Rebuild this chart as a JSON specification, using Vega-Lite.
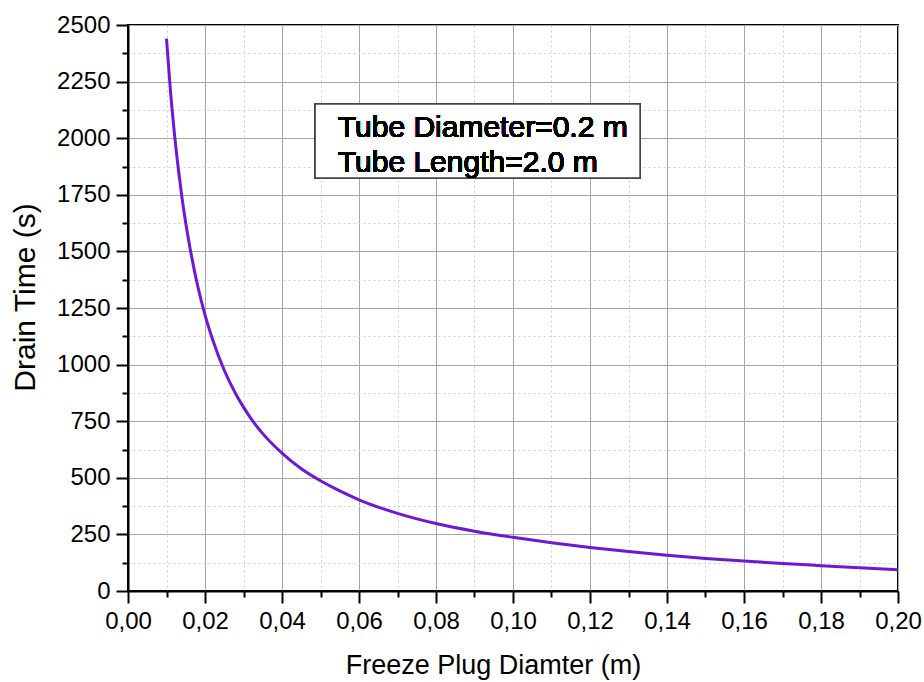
{
  "$schema": "https://vega.github.io/schema/vega-lite/v6.json",
  "autosize": {"type": "none"},
  "padding": {"left": 128, "top": 25, "right": 26, "bottom": 91},
  "width": 770,
  "height": 566,
  "background": "white",
  "config": {
    "view": {"stroke": "black", "strokeWidth": 2},
    "font": "Liberation Sans",
    "axis": {
      "domainColor": "black",
      "domainWidth": 2,
      "tickColor": "black",
      "tickWidth": 2,
      "labelColor": "black",
      "titleColor": "black",
      "labelFont": "Liberation Sans",
      "titleFont": "Liberation Sans",
      "titleFontWeight": "normal"
    }
  },
  "data": {
    "values": [
      {"d": 0.010, "t": 2440},
      {"d": 0.011, "t": 2215},
      {"d": 0.012, "t": 2030},
      {"d": 0.013, "t": 1875},
      {"d": 0.014, "t": 1740},
      {"d": 0.015, "t": 1625},
      {"d": 0.016, "t": 1525},
      {"d": 0.018, "t": 1355},
      {"d": 0.020, "t": 1220},
      {"d": 0.022, "t": 1110},
      {"d": 0.025, "t": 975},
      {"d": 0.028, "t": 870},
      {"d": 0.030, "t": 812},
      {"d": 0.032, "t": 760},
      {"d": 0.035, "t": 695},
      {"d": 0.040, "t": 609},
      {"d": 0.045, "t": 540},
      {"d": 0.050, "t": 487},
      {"d": 0.055, "t": 442},
      {"d": 0.060, "t": 403},
      {"d": 0.070, "t": 343},
      {"d": 0.080, "t": 298},
      {"d": 0.090, "t": 264},
      {"d": 0.100, "t": 237},
      {"d": 0.110, "t": 213},
      {"d": 0.120, "t": 192},
      {"d": 0.130, "t": 174},
      {"d": 0.140, "t": 158},
      {"d": 0.150, "t": 144},
      {"d": 0.160, "t": 132},
      {"d": 0.170, "t": 121.5},
      {"d": 0.180, "t": 112},
      {"d": 0.190, "t": 102.5},
      {"d": 0.200, "t": 94}
    ]
  },
  "resolve": {"axis": {"x": "independent", "y": "independent"}},
  "layer": [
    {
      "mark": {"type": "line", "opacity": 0},
      "encoding": {
        "x": {
          "field": "d", "type": "quantitative",
          "scale": {"domain": [0, 0.2], "nice": false, "zero": false},
          "axis": {
            "orient": "bottom",
            "values": [0.01, 0.03, 0.05, 0.07, 0.09, 0.11, 0.13, 0.15, 0.17, 0.19],
            "labels": false, "title": null, "domain": false,
            "tickSize": 6,
            "grid": true, "gridColor": "#cfcfcf", "gridDash": [2, 3], "gridWidth": 1
          }
        },
        "y": {
          "field": "t", "type": "quantitative",
          "scale": {"domain": [0, 2500], "nice": false},
          "axis": {
            "orient": "left",
            "values": [125, 375, 625, 875, 1125, 1375, 1625, 1875, 2125, 2375],
            "labels": false, "title": null, "domain": false,
            "tickSize": 6,
            "grid": true, "gridColor": "#cfcfcf", "gridDash": [2, 3], "gridWidth": 1
          }
        }
      }
    },
    {
      "mark": {"type": "line", "color": "#6f17d6", "strokeWidth": 3, "interpolate": "monotone"},
      "encoding": {
        "x": {
          "field": "d", "type": "quantitative",
          "axis": {
            "orient": "bottom",
            "values": [0, 0.02, 0.04, 0.06, 0.08, 0.1, 0.12, 0.14, 0.16, 0.18, 0.2],
            "labelExpr": "replace(format(datum.value, '.2f'), '.', ',')",
            "labelFontSize": 24,
            "labelPadding": 6,
            "labelFlush": false,
            "labelOverlap": false,
            "tickSize": 12,
            "title": "Freeze Plug Diamter (m)",
            "titleFontSize": 27,
            "titlePadding": 19,
            "titleX": 365,
            "grid": true, "gridColor": "#a6a6a6", "gridWidth": 1
          }
        },
        "y": {
          "field": "t", "type": "quantitative",
          "axis": {
            "orient": "left",
            "values": [0, 250, 500, 750, 1000, 1250, 1500, 1750, 2000, 2250, 2500],
            "format": "d",
            "labelFontSize": 24,
            "labelPadding": 6,
            "labelFlush": false,
            "labelOverlap": false,
            "tickSize": 12,
            "title": "Drain Time (s)",
            "titleFontSize": 30,
            "titlePadding": 16,
            "titleY": 272,
            "grid": true, "gridColor": "#a6a6a6", "gridWidth": 1
          }
        }
      }
    },
    {
      "mark": {"type": "rect", "fill": "white", "stroke": "#444444", "strokeWidth": 1.5},
      "encoding": {
        "x": {"datum": 0.0486, "type": "quantitative", "axis": null},
        "x2": {"datum": 0.133},
        "y": {"datum": 2151, "type": "quantitative", "axis": null},
        "y2": {"datum": 1824}
      }
    },
    {
      "mark": {
        "type": "text",
        "text": ["Tube Diameter=0.2 m", "Tube Length=2.0 m"],
        "align": "left", "baseline": "alphabetic",
        "fontSize": 30, "lineHeight": 35, "fill": "black",
        "font": "Liberation Sans"
      },
      "encoding": {
        "x": {"datum": 0.0545, "type": "quantitative", "axis": null},
        "y": {"datum": 2005, "type": "quantitative", "axis": null}
      }
    }
  ]
}
